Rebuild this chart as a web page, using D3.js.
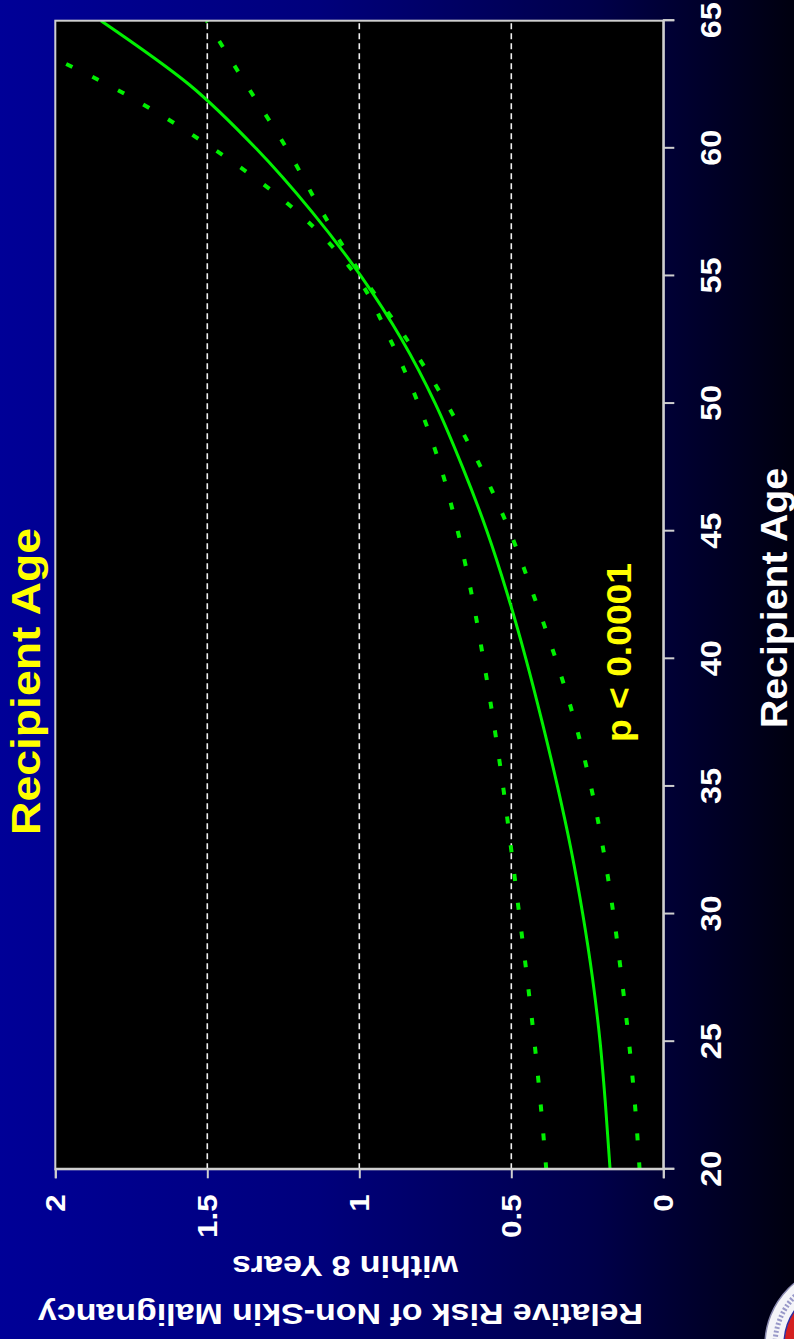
<!DOCTYPE html>
<html>
<head>
<meta charset="utf-8">
<script src="https://cdn.jsdelivr.net/npm/d3@7/dist/d3.min.js"></script>
<style>
  html, body { margin: 0; padding: 0; background: #000; }
  svg { display: block; }
  text { font-family: "Liberation Sans", Arial, Helvetica, sans-serif; font-weight: bold; }
</style>
</head>
<body>
<svg id="chart" width="794" height="1339"></svg>
<script>
// Recipient age (years) at which the fitted curves are sampled
const ages = [20, 22.5, 25, 27.5, 30, 32.5, 35, 37.5, 40, 42.5, 45, 47.5, 50, 52.5, 55, 57.5, 60, 62.5, 65];
// Relative risk of non-skin malignancy within 8 years (fitted estimate)
const relativeRisk = [0.175, 0.190, 0.208, 0.233, 0.265, 0.303, 0.348, 0.398, 0.452, 0.512, 0.580, 0.660, 0.750, 0.860, 0.995, 1.155, 1.340, 1.560, 1.850];
// Lower and upper confidence bounds
const lowerBound = [0.078, 0.093, 0.113, 0.137, 0.164, 0.197, 0.238, 0.290, 0.354, 0.427, 0.505, 0.600, 0.713, 0.843, 0.990, 1.122, 1.239, 1.372, 1.502];
const upperBound = [0.385, 0.403, 0.424, 0.448, 0.474, 0.500, 0.527, 0.558, 0.592, 0.630, 0.676, 0.732, 0.806, 0.898, 1.010, 1.203, 1.482, 1.829, 2.280];

const ageTicks = [20, 25, 30, 35, 40, 45, 50, 55, 60, 65];
const riskTicks = [0, 0.5, 1, 1.5, 2];
const riskTickLabels = ["0", "0.5", "1", "1.5", "2"];
const gridValues = [0.5, 1, 1.5];

const titleText = "Recipient Age";
const xTitleText = "Recipient Age";
const yTitleLines = ["Relative Risk of Non-Skin Malignancy", "within 8 Years"];
const pValueText = "p < 0.0001";

const PAGE_W = 794, PAGE_H = 1339;
const svg = d3.select("#chart");

// Background gradient for the slide
const defs = svg.append("defs");
const grad = defs.append("linearGradient").attr("id", "bg")
  .attr("x1", 0).attr("y1", 0).attr("x2", 1).attr("y2", 0);
[[0, "#000097"], [0.4, "#00007c"], [0.75, "#00004a"], [1, "#00000f"]].forEach(([o, c]) =>
  grad.append("stop").attr("offset", o).attr("stop-color", c));
svg.append("rect").attr("width", PAGE_W).attr("height", PAGE_H).attr("fill", "url(#bg)");

// The slide is laid out sideways: draw in landscape space and turn it a quarter turn.
const g = svg.append("g").attr("transform", `translate(0,${PAGE_H}) rotate(-90)`);

const plot = { left: 169.7, right: 1318.3, top: 55.3, bottom: 663.3 };
const x = d3.scaleLinear().domain([20, 65]).range([plot.left, plot.right]);
const y = d3.scaleLinear().domain([0, 2]).range([plot.bottom, plot.top]);

defs.append("clipPath").attr("id", "plotClip").append("rect")
  .attr("x", plot.left).attr("y", plot.top)
  .attr("width", plot.right - plot.left).attr("height", plot.bottom - plot.top);

g.append("rect")
  .attr("x", plot.left).attr("y", plot.top)
  .attr("width", plot.right - plot.left).attr("height", plot.bottom - plot.top)
  .attr("fill", "#000");

// Reference lines
g.selectAll("line.grid").data(gridValues).join("line")
  .attr("class", "grid")
  .attr("x1", plot.left).attr("x2", plot.right)
  .attr("y1", d => y(d)).attr("y2", d => y(d))
  .attr("stroke", "#f0f0f0").attr("stroke-width", 1.6)
  .attr("stroke-dasharray", "6,4");

const toPoints = vals => ages.map((a, i) => ({ age: a, v: vals[i] }));
const line = d3.line().x(d => x(d.age)).y(d => y(d.v)).curve(d3.curveMonotoneX);

const curves = g.append("g").attr("clip-path", "url(#plotClip)");
[lowerBound, upperBound].forEach(vals => {
  curves.append("path").datum(toPoints(vals))
    .attr("d", line).attr("fill", "none")
    .attr("stroke", "#00f000").attr("stroke-width", 4)
    .attr("stroke-dasharray", "7,22");
});
curves.append("path").datum(toPoints(relativeRisk))
  .attr("d", line).attr("fill", "none")
  .attr("stroke", "#00f000").attr("stroke-width", 3);

// Frame
g.append("rect")
  .attr("x", plot.left).attr("y", plot.top)
  .attr("width", plot.right - plot.left).attr("height", plot.bottom - plot.top)
  .attr("fill", "none").attr("stroke", "#cfcfcf").attr("stroke-width", 2);

// Age axis
const xAxis = g.append("g").attr("transform", `translate(0,${plot.bottom})`)
  .call(d3.axisBottom(x).tickValues(ageTicks).tickSize(11).tickPadding(26).tickFormat(d3.format("d")));
xAxis.select(".domain").attr("stroke", "#cfcfcf").attr("stroke-width", 2);
xAxis.selectAll(".tick line").attr("stroke", "#cfcfcf").attr("stroke-width", 2);
xAxis.selectAll(".tick text")
  .attr("fill", "#fff").attr("font-size", 29).attr("font-weight", "bold")
  .attr("font-family", "'Liberation Sans', Arial, sans-serif")
  .each(function () {
    const t = d3.select(this);
    const yy = +t.attr("y");
    t.attr("y", 0).attr("transform", `translate(0,${yy}) scale(1.12,1)`);
  });

// Risk axis
const yAxis = g.append("g").attr("transform", `translate(${plot.left},0)`)
  .call(d3.axisLeft(y).tickValues(riskTicks).tickSize(9).tickPadding(16)
    .tickFormat((d, i) => riskTickLabels[i]));
yAxis.select(".domain").attr("stroke", "#cfcfcf").attr("stroke-width", 2);
yAxis.selectAll(".tick line").attr("stroke", "#cfcfcf").attr("stroke-width", 2);
yAxis.selectAll(".tick text")
  .attr("fill", "#fff").attr("font-size", 28).attr("font-weight", "bold")
  .attr("font-family", "'Liberation Sans', Arial, sans-serif")
  .each(function () {
    const t = d3.select(this);
    const xx = +t.attr("x");
    t.attr("x", 0).attr("transform", `translate(${xx},0) scale(1.12,1)`);
  });

// Titles
g.append("text")
  .attr("x", 657.5).attr("y", 40)
  .attr("text-anchor", "middle").attr("font-size", 41)
  .attr("textLength", 307).attr("lengthAdjust", "spacingAndGlyphs")
  .attr("fill", "#ffff00").text(titleText);

g.append("text")
  .attr("x", 741).attr("y", 787)
  .attr("text-anchor", "middle").attr("font-size", 37)
  .attr("textLength", 260).attr("lengthAdjust", "spacingAndGlyphs")
  .attr("fill", "#fff").text(xTitleText);

const yTitlePos = [
  { u: 35.5, v: 340.5, size: 30, len: 605 },
  { u: 82.8, v: 345, size: 29, len: 226 }
];
yTitleLines.forEach((txt, i) => {
  const p = yTitlePos[i];
  g.append("text")
    .attr("transform", `translate(${p.u},${p.v}) rotate(-90)`)
    .attr("text-anchor", "middle").attr("font-size", p.size)
    .attr("textLength", p.len).attr("lengthAdjust", "spacingAndGlyphs")
    .attr("fill", "#fff").text(txt);
});

g.append("text")
  .attr("x", 686.5).attr("y", 631)
  .attr("text-anchor", "middle").attr("font-size", 35)
  .attr("textLength", 179).attr("lengthAdjust", "spacingAndGlyphs")
  .attr("fill", "#ffff00").text(pValueText);

// Society seal in the corner
const seal = svg.append("g").attr("transform", "translate(845,1345)");
seal.append("circle").attr("r", 80).attr("fill", "#f4f4f8").attr("stroke", "#8a8ab0").attr("stroke-width", 1.5);
seal.append("circle").attr("r", 70).attr("fill", "none").attr("stroke", "#5a5aa8")
  .attr("stroke-width", 5).attr("stroke-dasharray", "2,2").attr("opacity", 0.6);
seal.append("circle").attr("r", 61).attr("fill", "#d42020").attr("stroke", "#3030a0").attr("stroke-width", 1.5);
</script>
</body>
</html>
